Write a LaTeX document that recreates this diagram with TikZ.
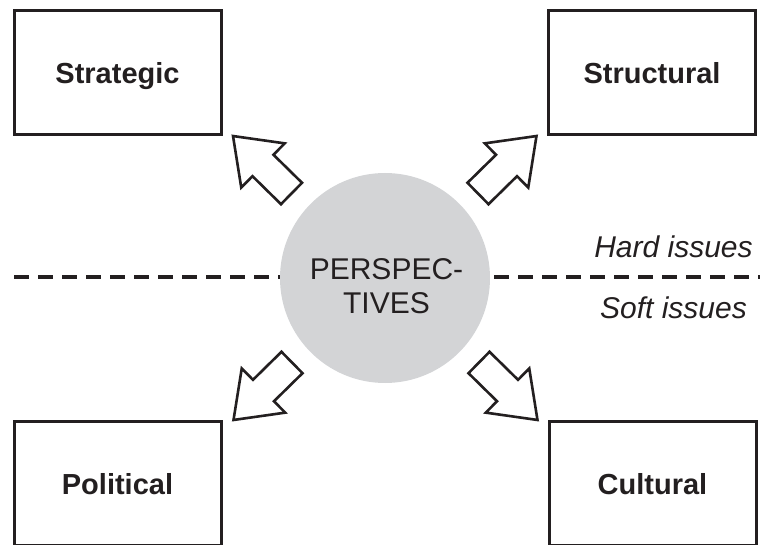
\documentclass[tikz,border=0pt]{standalone}
\usepackage{fontspec}
\setmainfont{Liberation Sans}
\usetikzlibrary{calc}
\definecolor{ink}{HTML}{231F20}
\definecolor{disc}{HTML}{D3D4D6}
\tikzset{
  x=1pt, y=1pt,
  panel/.style={draw=ink, line width=3pt, minimum width=207pt, minimum height=124pt,
    inner sep=0pt, text height=22pt, text depth=0pt, text=ink,
    font=\fontsize{29}{32}\selectfont\bfseries},
  hub/.style={circle, fill=disc, minimum size=210pt, inner sep=0pt},
  hubtext/.style={align=center, text=ink, font=\fontsize{30}{34}\selectfont},
  zone/.style={anchor=base, text=ink, font=\fontsize{30}{32}\selectfont\itshape},
  divider/.style={draw=ink, line width=4pt, dash pattern=on 15pt off 9pt},
  pics/blockarrow/.style={code={
    \draw[draw=ink, line width=2.6pt, fill=white, line join=miter]
      (0,-15) -- (40,-15) -- (40,-31) -- (82,0) -- (40,31) -- (40,15) -- (0,15) -- cycle;}}
}
\begin{document}
\begin{tikzpicture}
\useasboundingbox (0,0) rectangle (763,544);

% dividing line between hard and soft issues
\coordinate (divL) at (14,266.5);
\coordinate (divR) at (760,266.5);
\draw[divider] (divL) -- (divR);

% central disc
\node[hub] (persp) at (385,266) {};
\node[hubtext] (persplabel) at (386.5,257.5) {PERSPEC-\\TIVES};

% the four perspectives
\node[panel] (strategic)  at (117.5,471) {Strategic};
\node[panel] (structural) at (652,471)   {Structural};
\node[panel] (political)  at (117.5,61)  {Political};
\node[panel] (cultural)   at (652.5,61)  {Cultural};

% block arrows from the disc towards each box
\pic[rotate=135.5]  (toStrategic)  at (291.5,350.5) {blockarrow};
\pic[rotate=44.5]   (toStructural) at (478,350.5)   {blockarrow};
\pic[rotate=-135.5] (toPolitical)  at (292,181.5)   {blockarrow};
\pic[rotate=-44.5]  (toCultural)   at (479,181.5)   {blockarrow};

% zone labels
\node[zone] (hard) at (673.5,286) {Hard issues};
\node[zone] (soft) at (673.5,225) {Soft issues};
\end{tikzpicture}
\end{document}
